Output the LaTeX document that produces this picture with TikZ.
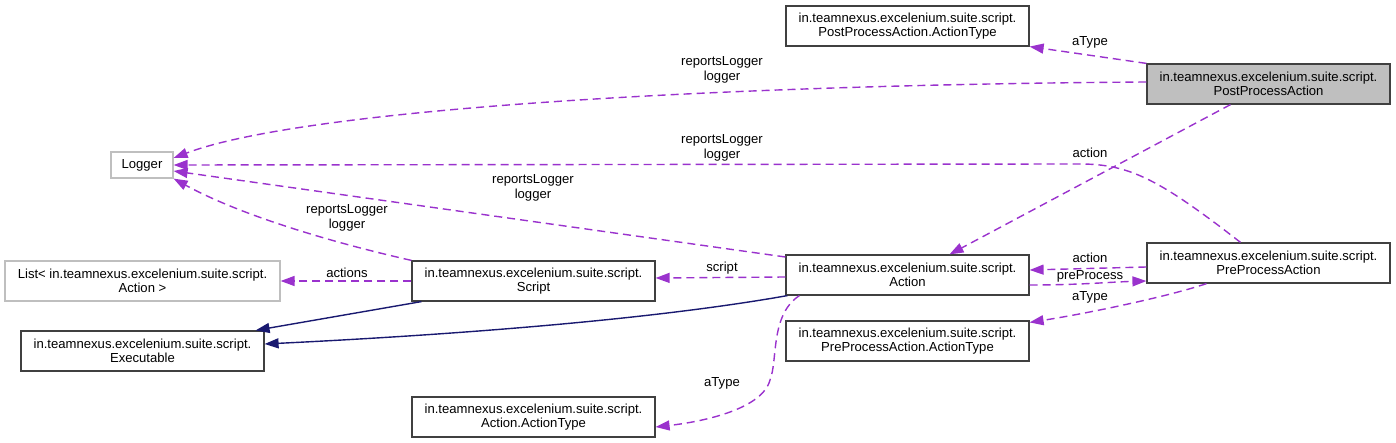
\documentclass[tikz,border=0pt]{standalone}
\usepackage{fontspec}
\setmainfont{Liberation Sans}
\usetikzlibrary{arrows.meta,calc}
\definecolor{usecolor}{HTML}{9A32CD}
\definecolor{inhcolor}{HTML}{191970}
\definecolor{extcolor}{HTML}{BFBFBF}
\definecolor{boxcolor}{HTML}{404040}

\begin{document}
\begin{tikzpicture}[x=1pt, y=-1pt,
    every node/.style={font=\fontsize{13.1}{14.5}\selectfont, inner sep=0pt},
    cls/.style={draw=boxcolor, line width=1.2pt, fill=white, align=center,
                minimum width=243pt, minimum height=40pt},
    cur/.style={cls, fill=extcolor},
    ext/.style={draw=extcolor, line width=1.2pt, fill=white, align=center},
    uses/.style={draw=usecolor, line width=1.4pt, dash pattern=on 8pt off 5pt,
                 -{Triangle[length=14pt,width=10pt]}},
    inherits/.style={draw=inhcolor, line width=1.4pt,
                 -{Triangle[length=14pt,width=10pt]}},
    lbl/.style={align=center}]
    \useasboundingbox (0,0) rectangle (1396,443);

    % Classes (right column)
    \node[cls] (postType) at (907.5,26) {in.teamnexus.excelenium.suite.script.\\PostProcessAction.ActionType};
    \node[cur] (post) at (1268.5,84) {in.teamnexus.excelenium.suite.script.\\PostProcessAction};
    \node[cls] (pre) at (1268.5,263) {in.teamnexus.excelenium.suite.script.\\PreProcessAction};
    \node[cls] (action) at (907.5,275) {in.teamnexus.excelenium.suite.script.\\Action};
    \node[cls] (preType) at (907.5,341) {in.teamnexus.excelenium.suite.script.\\PreProcessAction.ActionType};

    % Classes (middle)
    \node[cls] (script) at (533.5,281) {in.teamnexus.excelenium.suite.script.\\Script};
    \node[cls] (actType) at (533.5,417) {in.teamnexus.excelenium.suite.script.\\Action.ActionType};

    % External types and base class (left)
    \node[ext, minimum width=62pt, minimum height=26pt] (logger) at (142,165) {Logger};
    \node[ext, minimum width=275pt, minimum height=40pt] (list) at (142.5,281) {List< in.teamnexus.excelenium.suite.script.\\Action >};
    \node[cls] (exec) at (142.5,351) {in.teamnexus.excelenium.suite.script.\\Executable};

    % Usage edges to Logger
    \draw[uses] ([yshift=2pt]post.west) .. controls (700,85) and (300,110) .. ([yshift=7pt]logger.east);
    \draw[uses] ([xshift=-28pt]pre.north) .. controls (1160,180) and (1130,164) .. (1080,164) -- (logger.east);
    \draw[uses] ([yshift=18pt]action.west) -- ([yshift=-6pt]logger.east);
    \draw[uses] (script.north west) .. controls (330,242) and (240,215) .. (logger.south east);

    % Usage edges between classes
    \draw[uses] (post.north west) -- (postType.south east);
    \draw[uses] ([xshift=-38pt]post.south) -- ([xshift=42pt]action.north);
    \draw[uses] (script.west) -- (list.east);
    \draw[uses] ([yshift=-2pt]action.west) -- ([yshift=3pt]script.east);
    \draw[uses] ([xshift=14pt]action.south west) .. controls (770,315) and (778,360) .. (770,380)
        .. controls (762,410) and (700,422) .. ([yshift=-10pt]actType.east);
    \draw[uses] ([yshift=-4pt]pre.west) -- ([yshift=5pt]action.east);
    \draw[uses] ([yshift=-10pt]action.east) .. controls (1080,285) and (1110,282) .. ([yshift=-18pt]pre.west);
    \draw[uses] ([xshift=-62pt]pre.south) .. controls (1170,296) and (1090,313) .. ([yshift=-2pt]preType.north east);

    % Inheritance
    \draw[inherits] ([xshift=10pt]script.south west) -- ([xshift=-9pt]exec.north east);
    \draw[inherits] ([xshift=2pt]action.south west) .. controls (650,320) and (450,335) .. ([yshift=7pt]exec.east);

    % Edge labels
    \node[lbl] (lblPostType) at (1090,42) {aType};
    \node[lbl] (lblPostLog) at (722,70) {reportsLogger\\logger};
    \node[lbl] (lblPostAct) at (1090,153) {action};
    \node[lbl] (lblPreLog) at (722,148) {reportsLogger\\logger};
    \node[lbl] (lblActLog) at (533,188) {reportsLogger\\logger};
    \node[lbl] (lblScrLog) at (347,218) {reportsLogger\\logger};
    \node[lbl] (lblActions) at (347,273) {actions};
    \node[lbl] (lblScript) at (722,268) {script};
    \node[lbl] (lblActType) at (722,383) {aType};
    \node[lbl] (lblPreAct) at (1090,258) {action};
    \node[lbl] (lblPrePro) at (1090,276) {preProcess};
    \node[lbl] (lblPreType) at (1090,297) {aType};
\end{tikzpicture}
\end{document}
